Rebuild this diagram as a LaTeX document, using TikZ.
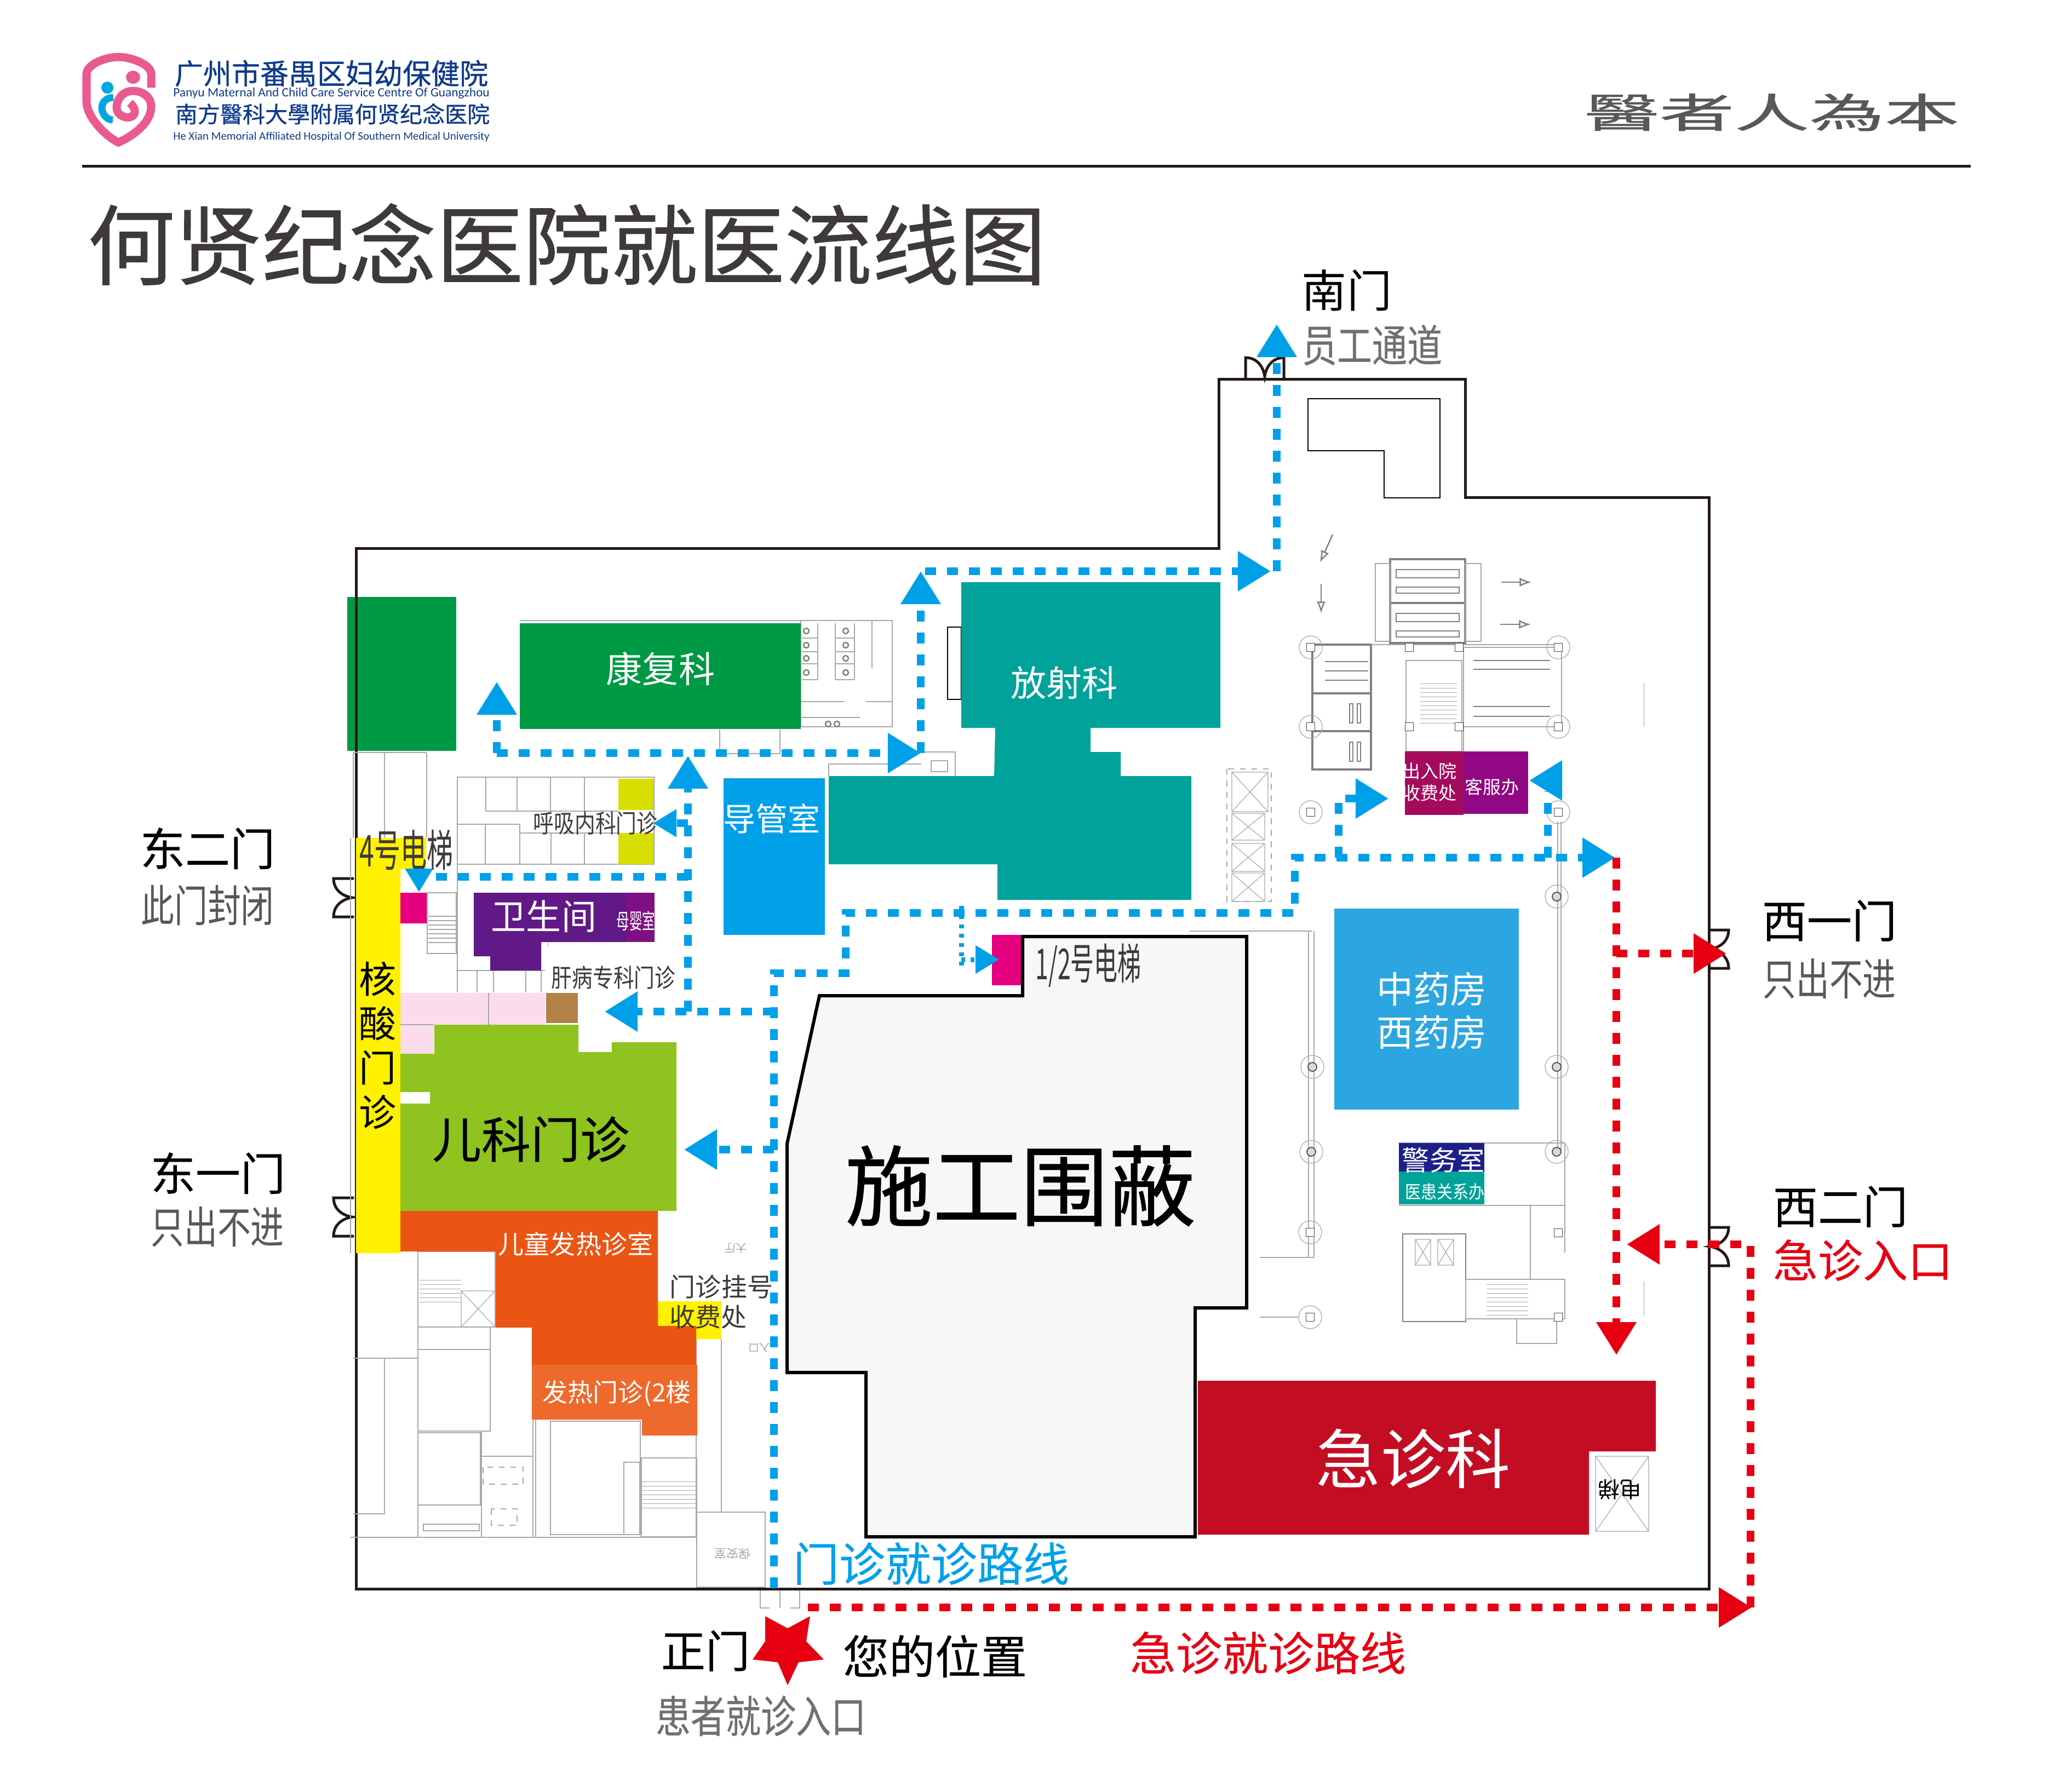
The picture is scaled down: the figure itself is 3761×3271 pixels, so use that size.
\documentclass[tikz,border=0pt]{standalone}
\usepackage{fontspec}
\setmainfont{Noto Sans CJK SC}
\newfontfamily\latinfont{Carlito}
\newfontfamily\medfont[FakeBold=0.7]{Noto Sans CJK SC}
\newfontfamily\halffont[FakeBold=0.35]{Noto Sans CJK SC}
\usetikzlibrary{arrows.meta}

\definecolor{wallblack}{HTML}{231815}
\definecolor{darktext}{HTML}{3E3A39}
\definecolor{graytext}{HTML}{595757}
\definecolor{midgray}{HTML}{717071}
\definecolor{cadgray}{HTML}{A8A8A9}
\definecolor{routeblue}{HTML}{00A0E9}
\definecolor{routered}{HTML}{E60012}
\definecolor{kfgreen}{HTML}{009944}
\definecolor{fsteal}{HTML}{00A29A}
\definecolor{ekgreen}{HTML}{8FC31F}
\definecolor{frorange}{HTML}{EA5514}
\definecolor{frlight}{HTML}{ED6A2C}
\definecolor{wsviolet}{HTML}{601986}
\definecolor{mypurple}{HTML}{7F1084}
\definecolor{hsyellow}{HTML}{FFF100}
\definecolor{hxyellow}{HTML}{D7DF01}
\definecolor{liftpink}{HTML}{E4007F}
\definecolor{lightpink}{HTML}{FADCEC}
\definecolor{brownroom}{HTML}{B28146}
\definecolor{zyblue}{HTML}{2CA6E0}
\definecolor{jzred}{HTML}{C30D23}
\definecolor{crymagenta}{HTML}{A40B5D}
\definecolor{kfviolet}{HTML}{920783}
\definecolor{jwnavy}{HTML}{1D2088}
\definecolor{logopink}{HTML}{E95A8F}
\definecolor{logoblue}{HTML}{00A7E1}
\definecolor{logonavy}{HTML}{0E3A8A}

\newcommand{\nar}[2]{\scalebox{#1}[1]{#2}}
\newcommand{\liftcross}[4]{\draw[cad] (#1,#2) rectangle (#3,#4) (#1,#2) -- (#3,#4) (#1,#4) -- (#3,#2);}

\tikzset{
	fs/.style={inner sep=0pt, font=\fontsize{#1mm}{#1mm}\selectfont},
	fsl/.style 2 args={inner sep=0pt, align=center, font=\fontsize{#1mm}{#2mm}\selectfont},
	wall/.style={draw=wallblack, line width=0.05cm},
	cad/.style={draw=cadgray, line width=0.35pt},
	cadbold/.style={draw=gray, line width=0.7pt},
	blueroute/.style={draw=routeblue, line width=0.135cm, dash pattern=on 0.2cm off 0.2cm},
	redroute/.style={draw=routered, line width=0.14cm, dash pattern=on 0.2cm off 0.2cm},
	bluetip/.style={-{Triangle[length=0.6cm,width=0.7cm,fill=routeblue]}},
	bluesmall/.style={-{Triangle[length=0.43cm,width=0.48cm,fill=routeblue]}},
	redtip/.style={-{Triangle[length=0.6cm,width=0.7cm,fill=routered]}},
	colround/.style={circle, draw=cadgray, line width=0.35pt, minimum size=0.42cm, inner sep=0pt},
	colinner/.style={circle, draw=wallblack!80, line width=0.5pt, fill=gray!30, minimum size=0.16cm, inner sep=0pt},
	colsq/.style={rectangle, draw=wallblack!80, line width=0.5pt, fill=white, minimum size=0.15cm, inner sep=0pt},
	door/.pic={
		\draw[wall] (0,-35) -- (-37,-35) .. controls (-37,-15) and (-22,-3) .. (-3,0) .. controls (-22,3) and (-37,15) .. (-37,35) -- (0,35);
	}
}

\begin{document}
\begin{tikzpicture}[x=0.01cm,y=-0.01cm]
\useasboundingbox (0,0) rectangle (3761,3271);

% logo
\draw[draw=logopink, line width=0.15cm] (276,160) -- (276,135) .. controls (276,118) and (240,104) .. (216,104) .. controls (192,104) and (158,118) .. (158,135) -- (158,185) .. controls (158,215) and (195,250) .. (216,260) .. controls (240,250) and (276,225) .. (276,195) .. controls (276,175) and (258,166) .. (243,166) .. controls (225,166) and (213,180) .. (213,197) .. controls (213,210) and (228,216) .. (237,214) .. controls (248,212) and (250,198) .. (237,188);
\draw[draw=logoblue, line width=0.13cm] (207,178) .. controls (195,178) and (186,186) .. (186,197) .. controls (186,208) and (195,219) .. (206,219);
\fill[logopink] (243,141) ellipse (13 and 12);
\fill[logoblue] (196,160) ellipse (11 and 11);
\node[fs=5.2, text=logonavy] (logo_1) at (605,134) {\medfont 广州市番禺区妇幼保健院};
\node[fs=1.9, text=logonavy] (logo_2) at (605,170) {\resizebox{5.77cm}{!}{\latinfont Panyu Maternal And Child Care Service Centre Of Guangzhou}};
\node[fs=4.1, text=logonavy] (logo_3) at (607,208) {\medfont 南方醫科大學附属何贤纪念医院};
\node[fs=1.9, text=logonavy] (logo_4) at (605,250) {\resizebox{5.77cm}{!}{\latinfont He Xian Memorial Affiliated Hospital Of Southern Medical University}};
\node[fs=7.4, text=graytext] (motto) at (3235,205) {\medfont\nar{1.85}{醫者人為本}};
\draw[wall] (150,303) -- (3598,303);

% title
\node[fs=15.9, text=darktext] (title) at (1035,446) {\medfont 何贤纪念医院就医流线图};

% coloured block under the wall
\fill[kfgreen] (634,1090) rectangle (833,1371);

% outer wall
\draw[wall] (650,1001) -- (2225,1001) -- (2225,692) -- (2675,692) -- (2675,908) -- (3120,908) -- (3120,2901) -- (650,2901) -- cycle;
\draw[draw=black, line width=0.4pt] (2388,728) -- (2629,728) -- (2629,909) -- (2527,909) -- (2527,823) -- (2388,823) -- cycle;

% doors
\pic at (646,1639) {door};
\pic at (646,2222) {door};
\pic[rotate=180] at (3119,1733) {door};
\pic[rotate=180] at (3119,2276) {door};
\pic[rotate=-90] at (2309,690) {door};
\draw[cad] (1388,2904) -- (1388,2936) -- (1405,2936) (1460,2904) -- (1460,2936) -- (1443,2936) (1424,2904) -- (1424,2936);

% plan: respiratory rooms
\draw[cad] (835,1419) rectangle (1194,1578);
\draw[cad] (887,1481) -- (1129,1481) (836,1505) -- (948,1505) (949,1521) -- (1129,1521);
\draw[cad] (887,1419) -- (887,1481) (944,1419) -- (944,1481) (1005,1419) -- (1005,1481) (1067,1419) -- (1067,1481);
\draw[cad] (886,1505) -- (886,1578) (949,1505) -- (949,1578) (1006,1521) -- (1006,1578) (1067,1521) -- (1067,1578);

% plan: toilets beside rehab
\draw[cad] (949,1133) -- (1462,1133) (1462,1133) rectangle (1629,1327);
\draw[cad] (1493,1138) -- (1493,1241) (1525,1138) -- (1525,1241) (1560,1138) -- (1560,1241) (1592,1133) -- (1592,1220);
\draw[cad] (1464,1165) -- (1493,1165) (1464,1190) -- (1493,1190) (1464,1212) -- (1493,1212) (1464,1241) -- (1493,1241);
\draw[cad] (1525,1165) -- (1560,1165) (1525,1190) -- (1560,1190) (1525,1212) -- (1560,1212) (1525,1241) -- (1560,1241);
\draw[cad] (1462,1281) -- (1542,1281) (1581,1281) -- (1629,1281) (1462,1310) -- (1570,1310);
\draw[cadbold] (1472,1152) circle (5) (1472,1178) circle (5) (1472,1202) circle (5) (1472,1228) circle (5) (1544,1152) circle (5) (1544,1178) circle (5) (1544,1202) circle (5) (1544,1228) circle (5) (1512,1322) circle (5) (1528,1322) circle (5);
\draw[cad, line width=0.8pt] (1314,1332) -- (1314,1376) -- (1424,1376) -- (1424,1332);

% plan: by radiology
\draw[draw=black, line width=0.4pt] (1730,1145) rectangle (1755,1277);
\draw[cad] (1513,1417) -- (1513,1395) -- (1682,1395) (1682,1373) -- (1744,1373) -- (1744,1417) (1700,1389) rectangle (1730,1409);

% plan: left corridor
\draw[cad] (645,1374) -- (779,1374) (645,1374) -- (645,1530) (702,1374) -- (702,1530) (779,1374) -- (779,1530);
\draw[cad] (640,1530) -- (640,2288) (780,1630) rectangle (833,1741) (835,1419) -- (835,1812);
\draw[cad, xstep=10cm, ystep=0.08cm] (782,1668) grid (832,1728);
\draw[cad] (833,1772) -- (995,1772) (871,1772) -- (871,1812) (901,1772) -- (901,1812) (960,1772) -- (960,1812) (988,1772) -- (988,1812);

% plan: south west rooms
\draw[cad] (763,2285) rectangle (904,2423) (763,2285) -- (763,2806);
\draw[cad, xstep=10cm, ystep=0.08cm] (766,2337) grid (842,2381);
\liftcross{842}{2357}{904}{2423}
\draw[cad] (645,2480) -- (763,2480) (702,2480) -- (702,2764) -- (645,2764) (640,2807) -- (1272,2807);
\draw[cad] (763,2464) rectangle (895,2613) (763,2616) rectangle (877,2748) (773,2783) rectangle (875,2795);
\draw[cad] (895,2423) -- (895,2613) (879,2613) -- (879,2807) (879,2659) -- (973,2659) (973,2592) -- (973,2807) (978,2592) -- (978,2807);
\draw[cad, dashed] (882,2679) rectangle (955,2710) (897,2755) rectangle (944,2785);
\draw[cad] (1005,2595) rectangle (1169,2802) (1139,2670) rectangle (1168,2802) (1171,2662) rectangle (1272,2806);
\draw[cad, xstep=10cm, ystep=0.08cm] (1172,2702) grid (1270,2761);
\draw[cad] (1271,2445) -- (1271,2806) (1317,2445) -- (1317,2761) (1272,2761) rectangle (1397,2898);
\node[fs=2.2, text=cadgray, rotate=180] (txt_baoan) at (1337,2837) {保安室};
\node[fs=2, text=cadgray, rotate=180] (txt_dating) at (1343,2279) {大厅};
\node[fs=2, text=cadgray, rotate=180] (txt_rukou) at (1386,2461) {入口};

% plan: north east block
\draw[cadbold, line width=0.9pt] (2538,1021) rectangle (2675,1174) (2538,1101) -- (2675,1101);
\draw[cad] (2511,1029) rectangle (2538,1171) (2675,1029) rectangle (2704,1171);
\draw[cadbold] (2549,1040) rectangle (2664,1055) (2549,1072) rectangle (2664,1083) (2549,1120) rectangle (2664,1135) (2549,1152) rectangle (2664,1163);
\draw[cadbold, line width=1pt] (2396,1177) rectangle (2503,1405) (2396,1266) -- (2503,1266) (2396,1335) -- (2503,1335);
\draw[cadbold] (2419,1208) -- (2498,1208) (2419,1225) -- (2498,1225) (2419,1242) -- (2498,1242) (2464,1285) rectangle (2470,1320) (2478,1285) rectangle (2484,1320) (2464,1355) rectangle (2470,1390) (2478,1355) rectangle (2484,1390);
\draw[cad] (2672,1182) rectangle (2851,1327) (2672,1327) -- (2672,1372) (2503,1177) -- (2851,1177);
\draw[cadbold] (2690,1206) -- (2830,1206) (2690,1222) -- (2830,1222) (2690,1290) -- (2830,1290) (2690,1308) -- (2830,1308);
\draw[cad] (2567,1206) rectangle (2669,1372);
\draw[cad, xstep=10cm, ystep=0.08cm] (2593,1247) grid (2660,1327);
\draw[cadbold, -{Latex[open]}] (2433,976) -- (2410,1027);
\draw[cadbold, -{Latex[open]}] (2412,1066) -- (2412,1120);
\draw[cadbold, -{Latex[open]}] (2741,1063) -- (2796,1063);
\draw[cadbold, -{Latex[open]}] (2739,1140) -- (2795,1140);

% plan: lifts by radiology
\draw[cad, dashed] (2240,1404) rectangle (2321,1646);
\liftcross{2249}{1410}{2315}{1482}
\liftcross{2249}{1485}{2309}{1534}
\liftcross{2249}{1540}{2309}{1591}
\liftcross{2249}{1594}{2309}{1646}

% plan: hall and south east block
\draw[cad] (2172,1700) -- (2396,1700) (2389,1700) -- (2389,2296) (2399,1700) -- (2399,2296) (2300,2296) -- (2399,2296) (2300,2405) -- (2370,2405);
\draw[cad] (2844,1500) -- (2844,2103) (2850,1500) -- (2850,2103);
\draw[cad] (2554,2087) -- (2857,2087) -- (2857,2287) (2554,2201) -- (2857,2201) (2794,2201) -- (2794,2336);
\draw[cadbold] (2561,2253) rectangle (2676,2413);
\liftcross{2584}{2263}{2612}{2310}
\liftcross{2625}{2263}{2654}{2310}
\draw[cad] (2676,2336) rectangle (2857,2408) (2769,2408) rectangle (2842,2453);
\draw[cad, xstep=10cm, ystep=0.08cm] (2714,2340) grid (2790,2404);

% columns
\node[colround] (col_1) at (2393,1182) {};
\node[colround] (col_2) at (2845,1182) {};
\node[colround] (col_3) at (2393,1327) {};
\node[colround] (col_4) at (2845,1327) {};
\node[colround] (col_5) at (2393,1483) {};
\node[colround] (col_6) at (2845,1483) {};
\node[colround] (col_7) at (2842,1637) {};
\node[colround] (col_8) at (2842,1948) {};
\node[colround] (col_9) at (2842,2103) {};
\node[colround] (col_10) at (2394,2103) {};
\node[colround] (col_11) at (2392,2250) {};
\node[colround] (col_12) at (2392,2405) {};
\node[colround] (col_13) at (2396,1948) {};
\node[colinner] (in_1) at (2842,1637) {};
\node[colinner] (in_2) at (2842,1948) {};
\node[colinner] (in_3) at (2842,2103) {};
\node[colinner] (in_4) at (2394,2103) {};
\node[colinner] (in_5) at (2396,1948) {};
\node[colsq] (sq_1) at (2393,1182) {};
\node[colsq] (sq_2) at (2845,1182) {};
\node[colsq] (sq_3) at (2393,1327) {};
\node[colsq] (sq_4) at (2845,1327) {};
\node[colsq] (sq_5) at (2393,1483) {};
\node[colsq] (sq_6) at (2845,1483) {};
\node[colsq] (sq_7) at (2573,1182) {};
\node[colsq] (sq_8) at (2664,1182) {};
\node[colsq] (sq_9) at (2573,1327) {};
\node[colsq] (sq_10) at (2664,1327) {};
\node[colsq] (sq_11) at (2392,2250) {};
\node[colsq] (sq_12) at (2392,2405) {};
\node[colsq] (sq_13) at (2845,2251) {};
\node[colsq] (sq_14) at (2845,2405) {};

% rooms
\fill[kfgreen] (949,1138) rectangle (1462,1331);
\node[fs=6.6, text=white] (txt_kf) at (1206,1221) {康复科};

\fill[fsteal] (1755,1063) -- (2228,1063) -- (2228,1329) -- (1991,1329) -- (1991,1373) -- (2046,1373) -- (2046,1417) -- (2175,1417) -- (2175,1643) -- (1821,1643) -- (1821,1578) -- (1513,1578) -- (1513,1417) -- (1815,1417) -- (1817,1329) -- (1755,1329) -- cycle;
\node[fs=6.5, text=white] (txt_fs) at (1943,1247) {放射科};

\fill[routeblue] (1321,1421) rectangle (1506,1707);
\node[fs=5.9, text=white] (txt_dg) at (1409,1495) {导管室};

\fill[hxyellow] (1129,1422) rectangle (1193,1479);
\fill[hxyellow] (1129,1521) rectangle (1193,1578);
\node[fs=4.6, text=darktext] (txt_hx) at (1087,1503) {\nar{0.82}{呼吸内科门诊}};

\fill[wsviolet] (865,1630) -- (1143,1630) -- (1143,1720) -- (988,1720) -- (988,1772) -- (895,1772) -- (895,1746) -- (865,1746) -- cycle;
\fill[mypurple] (1143,1630) rectangle (1195,1720);
\node[fs=6.4, text=white] (txt_ws) at (993,1673) {卫生间};
\node[fs=3.9, text=white] (txt_my) at (1161,1681) {\nar{0.6}{母婴室}};
\node[fs=4.6, text=darktext] (txt_gb) at (1120,1785) {\nar{0.82}{肝病专科门诊}};

\fill[lightpink] (731,1813) -- (995,1813) -- (995,1871) -- (792,1871) -- (792,1924) -- (731,1924) -- cycle;
\draw[cad] (731,1871) -- (792,1871) (892,1813) -- (892,1871);
\fill[brownroom] (997,1813) rectangle (1055,1868);

\fill[hsyellow] (650,1530) -- (778,1530) -- (778,1587) -- (731,1587) -- (731,2288) -- (650,2288) -- cycle;
\fill[liftpink] (731,1630) rectangle (779,1686);
\node[fs=8, text=darktext] (txt_lift4) at (742,1552) {\nar{0.6}{4号电梯}};
\node[fsl={6.8}{8.1}, text=black] (txt_hs) at (690,1909) {核\\酸\\门\\诊};

\fill[ekgreen] (731,1924) -- (793,1924) -- (793,1871) -- (1056,1871) -- (1056,1921) -- (1117,1921) -- (1117,1903) -- (1235,1903) -- (1235,2211) -- (731,2211) -- cycle;
\fill[white] (731,1994) rectangle (785,2015);
\node[fs=9, text=black] (txt_ek) at (969,2080) {\halffont 儿科门诊};

\fill[hsyellow] (1201,2376) rectangle (1317,2445);
\fill[frorange] (731,2211) -- (1201,2211) -- (1201,2421) -- (1271,2421) -- (1271,2492) -- (971,2492) -- (971,2424) -- (905,2424) -- (905,2285) -- (731,2285) -- cycle;
\fill[frlight] (971,2492) -- (1273,2492) -- (1273,2621) -- (1172,2621) -- (1172,2592) -- (971,2592) -- cycle;
\node[fs=4.7, text=white] (txt_ef) at (1051,2271) {儿童发热诊室};
\node[fs=4.6, text=white] (txt_fr) at (1126,2545) {发热门诊(2楼};
\node[fs=4.7, text=darktext] (txt_gh) at (1317,2350) {门诊挂号};
\node[fs=4.7, text=darktext] (txt_sf) at (1293,2405) {收费处};

\fill[zyblue] (2436,1659) rectangle (2773,2026);
\node[fsl={6.7}{7.9}, text=white] (txt_yf) at (2614,1845) {中药房\\西药房};

\fill[crymagenta] (2565,1372) rectangle (2672,1488);
\fill[kfviolet] (2672,1372) rectangle (2790,1486);
\node[fsl={3.3}{4}, text=white] (txt_cry) at (2610,1428) {出入院\\收费处};
\node[fs=3.3, text=white] (txt_kfb) at (2724,1437) {客服办};

\fill[jwnavy] (2554,2087) rectangle (2710,2139);
\fill[fsteal] (2554,2139) rectangle (2710,2199);
\node[fs=5, text=white] (txt_jw) at (2635,2118) {警务室};
\node[fs=3.3, text=white] (txt_yh) at (2638,2176) {\nar{0.88}{医患关系办}};

\fill[jzred] (2187,2521) -- (3023,2521) -- (3023,2650) -- (2901,2650) -- (2901,2802) -- (2187,2802) -- cycle;
\node[fs=11.8, text=white] (txt_jz) at (2580,2663) {急诊科};
\liftcross{2913}{2659}{3010}{2796}
\node[fs=4, text=black, rotate=180] (txt_lift_jz) at (2957,2720) {电梯};

% site hoarding
\fill[liftpink] (1811,1707) rectangle (1866,1799);
\draw[draw=black, line width=0.06cm, fill=black!3] (1496,1818) -- (1867,1818) -- (1867,1710) -- (2276,1710) -- (2276,2388) -- (2182,2388) -- (2182,2806) -- (1581,2806) -- (1581,2506) -- (1437,2506) -- (1437,2088) -- cycle;
\node[fs=16, text=black] (txt_wb) at (1863,2165) {\medfont 施工围蔽};
\node[fs=7.8, text=darktext] (txt_lift12) at (1987,1763) {\nar{0.55}{1/2号电梯}};

% route corners
\coordinate (m_0) at (1413,2900);
\coordinate (m_1) at (1413,1777);
\coordinate (m_2) at (1544,1777);
\coordinate (m_3) at (1544,1667);
\coordinate (m_4) at (2364,1667);
\coordinate (m_5) at (2364,1566);
\coordinate (m_6) at (2949,1566);
\coordinate (k_0) at (1413,2099);
\coordinate (k_1) at (1249,2099);
\coordinate (n_0) at (1413,1847);
\coordinate (n_1) at (1256,1847);
\coordinate (n_2) at (1256,1380);
\coordinate (n_3) at (1104,1847);
\coordinate (h_0) at (1256,1503);
\coordinate (h_1) at (1192,1503);
\coordinate (f_0) at (1256,1601);
\coordinate (f_1) at (794,1601);
\coordinate (f_2) at (765,1587);
\coordinate (f_3) at (765,1629);
\coordinate (u_0) at (907,1375);
\coordinate (u_1) at (907,1245);
\coordinate (u_2) at (1681,1375);
\coordinate (u_3) at (1681,1043);
\coordinate (s_0) at (1689,1043);
\coordinate (s_1) at (2320,1043);
\coordinate (s_2) at (2331,1043);
\coordinate (s_3) at (2331,592);
\coordinate (e_0) at (1755,1654);
\coordinate (e_1) at (1755,1772);
\coordinate (e_2) at (1755,1752);
\coordinate (e_3) at (1824,1752);
\coordinate (c_0) at (2444,1566);
\coordinate (c_1) at (2444,1458);
\coordinate (c_2) at (2535,1458);
\coordinate (b_0) at (2826,1566);
\coordinate (b_1) at (2826,1445);
\coordinate (b_2) at (2852,1425);
\coordinate (b_3) at (2792,1425);

% outpatient route
\draw[blueroute, bluetip] (m_0) -- (m_1) -- (m_2) -- (m_3) -- (m_4) -- (m_5) -- (m_6);
\draw[blueroute, bluetip] (k_0) -- (k_1);
\draw[blueroute, bluetip] (n_0) -- (n_3);
\draw[blueroute, bluetip] (n_1) -- (n_2);
\draw[blueroute, bluesmall] (h_0) -- (h_1);
\draw[blueroute] (f_0) -- (f_1);
\draw[blueroute, bluesmall] (f_2) -- (f_3);
\draw[blueroute, bluetip] (u_0) -- (u_1);
\draw[blueroute, bluetip] (u_0) -- (u_2);
\draw[blueroute, bluetip] (u_2) -- (u_3);
\draw[blueroute, bluetip] (s_0) -- (s_1);
\draw[blueroute, bluetip] (s_2) -- (s_3);
\draw[draw=routeblue, line width=0.09cm, dash pattern=on 0.07cm off 0.1cm] (e_0) -- (e_1);
\draw[draw=routeblue, line width=0.09cm, dash pattern=on 0.07cm off 0.1cm, -{Triangle[length=0.43cm,width=0.5cm,fill=routeblue]}] (e_2) -- (e_3);
\draw[blueroute, bluetip] (c_0) -- (c_1) -- (c_2);
\draw[blueroute] (b_0) -- (b_1);
\draw[blueroute, bluetip] (b_2) -- (b_3);

% emergency route
\coordinate (j_0) at (2951,1566);
\coordinate (j_1) at (2951,2474);
\coordinate (j_2) at (2951,1741);
\coordinate (j_3) at (3152,1741);
\coordinate (j_4) at (1475,2935);
\coordinate (j_5) at (3198,2935);
\coordinate (j_6) at (3196,2935);
\coordinate (j_7) at (3196,2272);
\coordinate (j_8) at (2970,2272);
\draw[redroute, redtip] (j_0) -- (j_1);
\draw[redroute, redtip] (j_2) -- (j_3);
\draw[redroute, redtip] (j_4) -- (j_5);
\draw[redroute, redtip] (j_6) -- (j_7) -- (j_8);

% star
\fill[routered] (1397,2951) -- (1438,2973) -- (1479,2951) -- (1472,2997) -- (1504,3030) -- (1458,3035) -- (1438,3077) -- (1420,3035) -- (1374,3030) -- (1397,2997) -- cycle;

% labels outside
\node[fs=8.2, text=black] (txt_nm) at (2459,530) {南门};
\node[fs=8, text=midgray] (txt_yg) at (2505,630) {\halffont\nar{0.8}{员工通道}};
\node[fs=8.2, text=black] (txt_e2) at (379,1549) {\halffont 东二门};
\node[fs=8, text=graytext] (txt_e2b) at (379,1653) {\nar{0.76}{此门封闭}};
\node[fs=8.2, text=black] (txt_e1) at (398,2142) {\halffont 东一门};
\node[fs=8, text=graytext] (txt_e1b) at (397,2240) {\nar{0.76}{只出不进}};
\node[fs=8.2, text=black] (txt_w1) at (3340,1681) {\halffont 西一门};
\node[fs=8, text=graytext] (txt_w1b) at (3340,1787) {\nar{0.76}{只出不进}};
\node[fs=8.2, text=black] (txt_w2) at (3360,2203) {\halffont 西二门};
\node[fs=8.2, text=routered] (txt_w2b) at (3401,2301) {\halffont 急诊入口};
\node[fs=8.4, text=routeblue] (txt_lblue) at (1700,2855) {\halffont 门诊就诊路线};
\node[fs=8.4, text=routered] (txt_lred) at (2315,3018) {\halffont 急诊就诊路线};
\node[fs=8.4, text=black] (txt_here) at (1707,3024) {\halffont 您的位置};
\node[fs=8.1, text=black] (txt_zm) at (1288,3014) {\halffont 正门};
\node[fs=8, text=midgray] (txt_zmb) at (1389,3133) {\halffont\nar{0.8}{患者就诊入口}};

\end{tikzpicture}
\end{document}
